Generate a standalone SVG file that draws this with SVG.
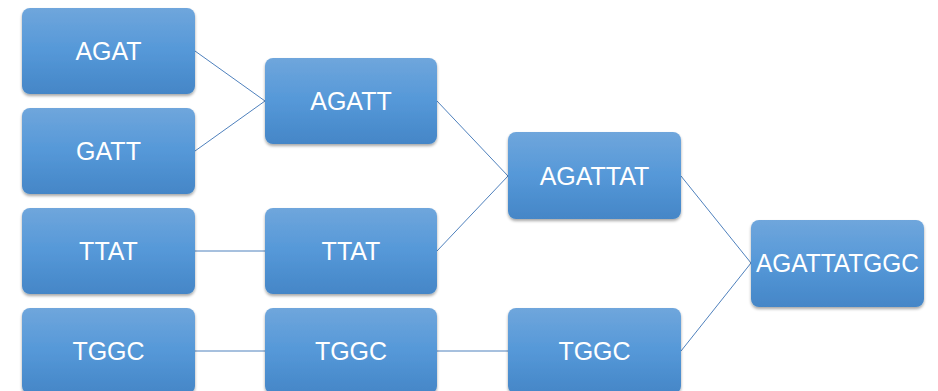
<svg xmlns="http://www.w3.org/2000/svg" width="938" height="391" viewBox="0 0 938 391">
<defs>
<linearGradient id="g" x1="0" y1="0" x2="0" y2="1">
<stop offset="0" stop-color="#6fa6dc"/>
<stop offset="0.5" stop-color="#5598d8"/>
<stop offset="1" stop-color="#4586c7"/>
</linearGradient>
<filter id="sh" x="-10%" y="-10%" width="120%" height="130%">
<feGaussianBlur in="SourceAlpha" stdDeviation="1.5"/>
<feOffset dx="0" dy="2" result="b"/>
<feComponentTransfer><feFuncA type="linear" slope="0.35"/></feComponentTransfer>
<feMerge><feMergeNode/><feMergeNode in="SourceGraphic"/></feMerge>
</filter>
</defs>
<style>
.box{fill:url(#g);filter:url(#sh)}
.t{fill:#fff;font-family:"Liberation Sans",Arial,sans-serif;font-size:25px;text-anchor:middle}
.c{stroke:#4f81bd;stroke-width:1;fill:none}
</style>
<rect width="938" height="391" fill="#fff"/>
<g id="connectors">
<line class="c" x1="195" y1="51" x2="265" y2="101"/>
<line class="c" x1="195" y1="151" x2="265" y2="101"/>
<line class="c" x1="195" y1="251" x2="265" y2="251"/>
<line class="c" x1="195" y1="351" x2="265" y2="351"/>
<line class="c" x1="437" y1="351" x2="508" y2="351"/>
<line class="c" x1="437" y1="101" x2="508" y2="176"/>
<line class="c" x1="437" y1="251" x2="508" y2="176"/>
<line class="c" x1="681" y1="176" x2="751" y2="263"/>
<line class="c" x1="681" y1="351" x2="751" y2="263"/>
</g>
<g id="n-agat"><rect class="box" x="22" y="8" width="173" height="86" rx="8"/><text class="t" x="108.5" y="60">AGAT</text></g>
<g id="n-gatt"><rect class="box" x="22" y="108" width="173" height="86" rx="8"/><text class="t" x="108.5" y="160">GATT</text></g>
<g id="n-ttat1"><rect class="box" x="22" y="208" width="173" height="86" rx="8"/><text class="t" x="108.5" y="260">TTAT</text></g>
<g id="n-tggc1"><rect class="box" x="22" y="308" width="173" height="86" rx="8"/><text class="t" x="108.5" y="360">TGGC</text></g>
<g id="n-agatt"><rect class="box" x="265" y="58" width="172" height="86" rx="8"/><text class="t" x="351" y="110">AGATT</text></g>
<g id="n-ttat2"><rect class="box" x="265" y="208" width="172" height="86" rx="8"/><text class="t" x="351" y="260">TTAT</text></g>
<g id="n-tggc2"><rect class="box" x="265" y="308" width="172" height="86" rx="8"/><text class="t" x="351" y="360">TGGC</text></g>
<g id="n-agattat"><rect class="box" x="508" y="132" width="173" height="87" rx="8"/><text class="t" x="594.5" y="185">AGATTAT</text></g>
<g id="n-tggc3"><rect class="box" x="508" y="308" width="173" height="86" rx="8"/><text class="t" x="594.5" y="360">TGGC</text></g>
<g id="n-final"><rect class="box" x="751" y="220" width="173" height="87" rx="8"/><text class="t" x="837.5" y="272" textLength="163" lengthAdjust="spacingAndGlyphs">AGATTATGGC</text></g>
</svg>
